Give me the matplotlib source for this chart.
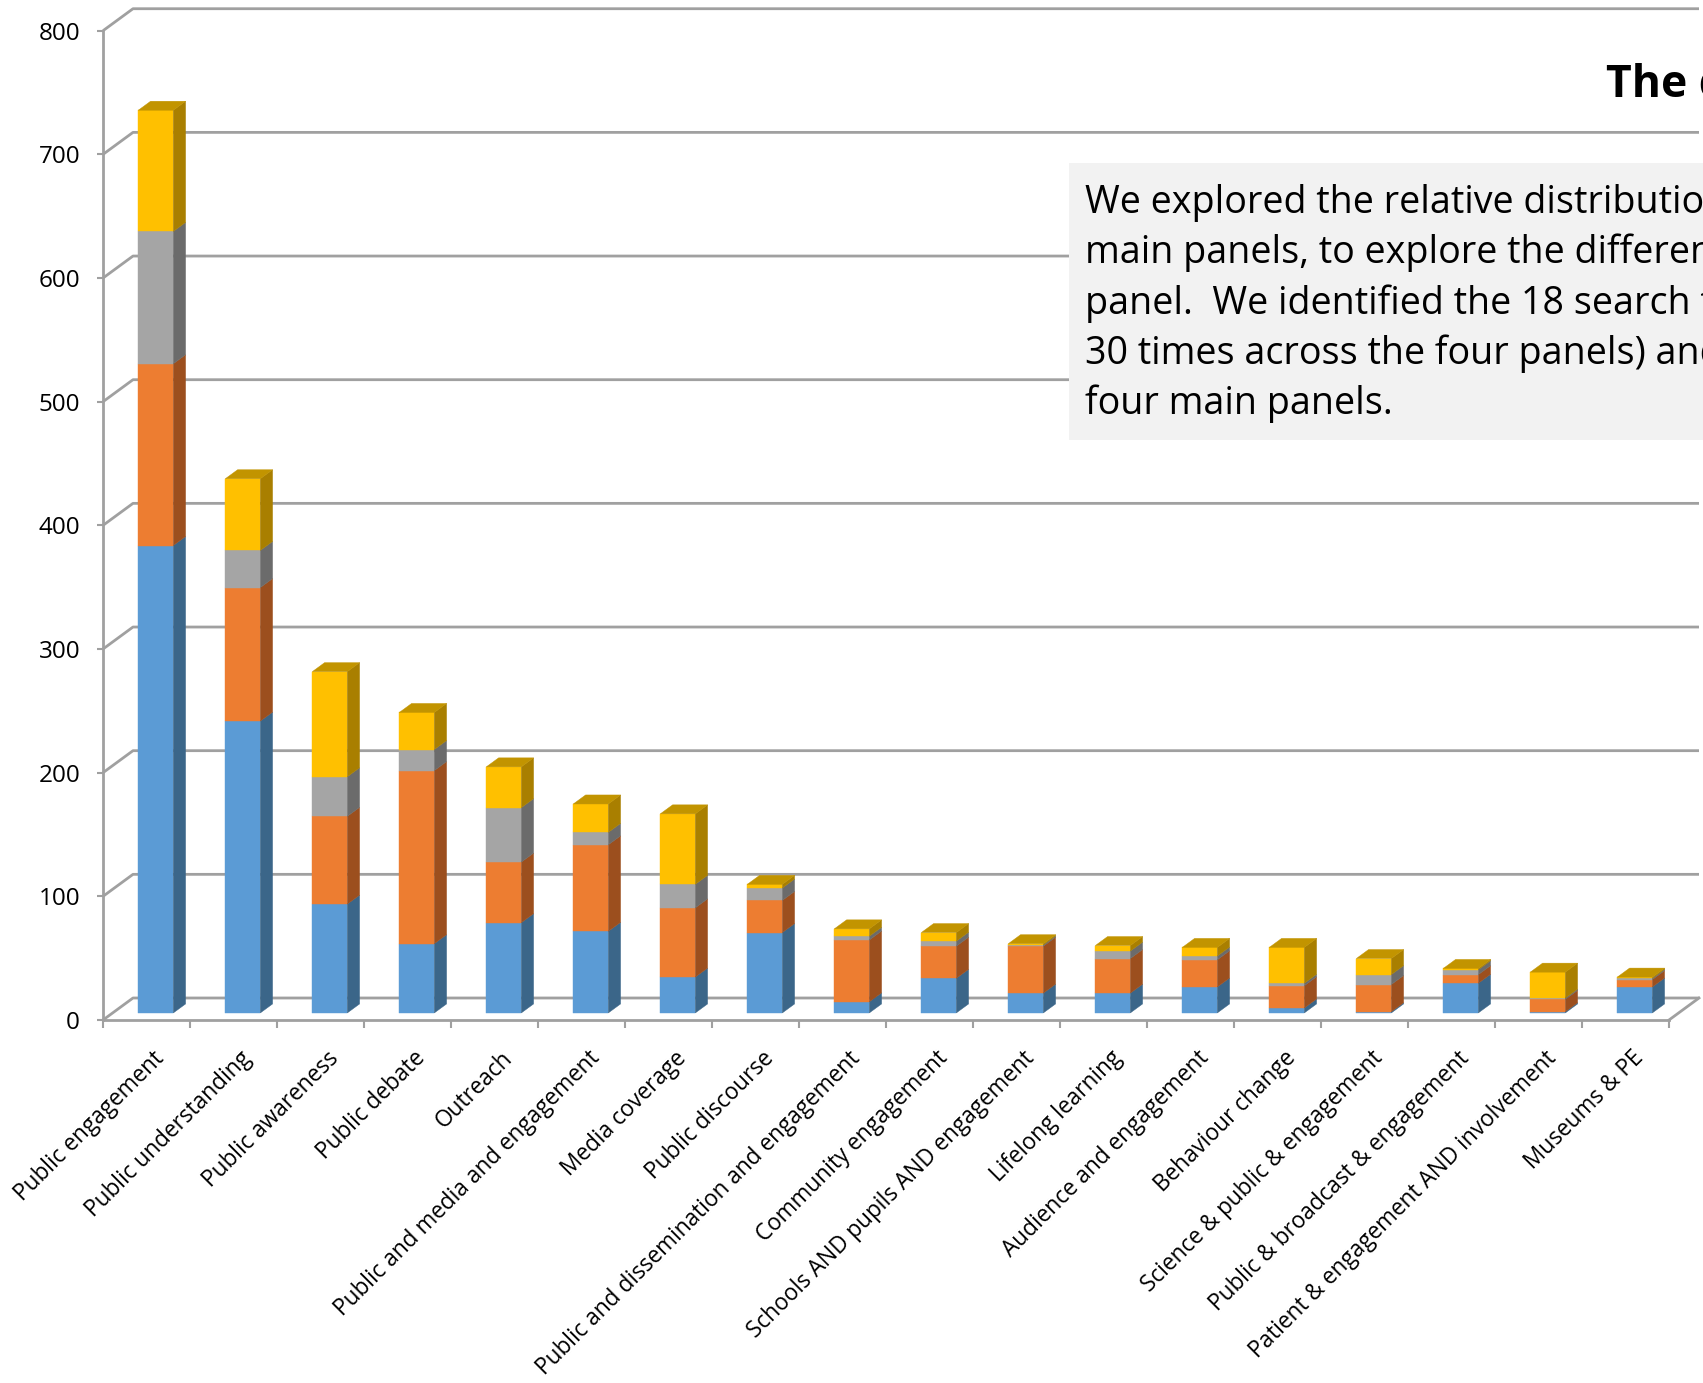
import matplotlib
matplotlib.use("Agg")
import matplotlib.pyplot as plt
from matplotlib.patches import Polygon, Rectangle

categories = ["Public engagement", "Public understanding", "Public awareness", "Public debate",
              "Outreach", "Public and media and engagement", "Media coverage", "Public discourse",
              "Public and dissemination and engagement", "Community engagement",
              "Schools AND pupils AND engagement", "Lifelong learning", "Audience and engagement",
              "Behaviour change", "Science & public & engagement", "Public & broadcast & engagement",
              "Patient & engagement AND involvement", "Museums & PE"]
panel_a = [378, 236, 88, 56, 73, 66, 29, 65, 9, 28, 16, 16, 21, 4, 1, 24, 1, 21]
panel_b = [147, 108, 71, 140, 49, 70, 56, 26, 50, 26, 38, 28, 22, 18, 22, 7, 10, 6]
panel_c = [107, 30, 32, 17, 44, 10, 19, 10, 3, 4, 1, 6, 3, 2, 8, 4, 1, 1]
panel_d = [98, 58, 85, 30, 33, 23, 57, 3, 6, 7, 1, 4.5, 7, 29, 13, 1, 21, 1]
y_ticks = [0, 100, 200, 300, 400, 500, 600, 700, 800]

title_text = "The distribution of search terms"
box_lines = ["We explored the relative distribution of search terms across the",
             "main panels, to explore the differences in emphasis in each",
             "panel.  We identified the 18 search terms (those used more than",
             "30 times across the four panels) and their use across the",
             "four main panels."]

series = [panel_a, panel_b, panel_c, panel_d]
front_cols = ["#5B9BD5", "#ED7D31", "#A5A5A5", "#FFC000"]
side_cols = ["#3B6689", "#9C4F1E", "#6B6B6B", "#A97F00"]
top_cols = ["#4A7FAF", "#C0662A", "#888888", "#C29400"]

FONT = ["Open Sans", "DejaVu Sans"]
plt.rcParams["font.family"] = FONT

W, H = 1703, 1383
fig = plt.figure(figsize=(W / 100, H / 100), dpi=100)
PX_CAT = 87.0
PX_UNIT = 1.2366
ax = fig.add_axes([103 / W, 363 / H, 1600 / W, 1020 / H])
ax.set_xlim(-0.5, -0.5 + 1600 / PX_CAT)
ax.set_ylim(0, 1020 / PX_UNIT)

DX = 30 / PX_CAT
DY = 22 / PX_UNIT
grid_col = "#A0A0A0"
n = len(categories)

for v in y_ticks:
    ax.plot([-0.5, -0.5 + DX, n - 0.5 + DX], [v, v + DY, v + DY],
            color=grid_col, lw=2.0, zorder=1, solid_capstyle="butt", clip_on=False)
ax.plot([n - 0.5, n - 0.5 + DX], [0, DY], color=grid_col, lw=2.0, zorder=1, clip_on=False)

f1, f2 = 0.32, 0.73
bw = 35 / PX_CAT
for i in range(n):
    x0 = i - bw / 2 + 9.3 / PX_CAT
    yb = f1 * DY
    bdx = (f2 - f1) * DX
    bdy = (f2 - f1) * DY
    x1 = x0 + bw
    base = 0.0
    vals = [s[i] for s in series]
    top_idx = max(k for k, v in enumerate(vals) if v > 0)
    for k, v in enumerate(vals):
        if v <= 0:
            continue
        ya, yt = yb + base, yb + base + v
        ax.add_patch(Polygon([(x0, ya), (x1, ya), (x1, yt), (x0, yt)], closed=True,
                             facecolor=front_cols[k], edgecolor=front_cols[k], lw=0.3, zorder=3))
        ax.add_patch(Polygon([(x1, ya), (x1 + bdx, ya + bdy), (x1 + bdx, yt + bdy), (x1, yt)],
                             closed=True, facecolor=side_cols[k], edgecolor=side_cols[k],
                             lw=0.3, zorder=3))
        if k == top_idx:
            ax.add_patch(Polygon([(x0, yt), (x1, yt), (x1 + bdx, yt + bdy), (x0 + bdx, yt + bdy)],
                                 closed=True, facecolor=top_cols[k], edgecolor=top_cols[k],
                                 lw=0.3, zorder=3))
        base += v

for s in ["top", "right"]:
    ax.spines[s].set_visible(False)
ax.spines["left"].set_bounds(0, 800)
ax.spines["bottom"].set_bounds(-0.5, n - 0.5)
for s in ["left", "bottom"]:
    ax.spines[s].set_color(grid_col)
    ax.spines[s].set_linewidth(2.0)
ax.set_yticks(y_ticks)
ax.set_yticklabels([str(t) for t in y_ticks], fontsize=17.5)
ax.tick_params(axis="y", length=4.5, width=1.5, color=grid_col, pad=12)
ax.set_xticks([i - 0.5 for i in range(n + 1)])
ax.set_xticklabels([])
ax.tick_params(axis="x", which="major", length=6, width=1.5, color=grid_col)
ax.set_xticks([i + 0.07 for i in range(n)], minor=True)
ax.set_xticklabels(categories, minor=True, fontsize=16.3)
ax.tick_params(axis="x", which="minor", length=0, pad=19)
plt.setp(ax.get_xticklabels(minor=True), rotation=45, ha="right", va="top",
         rotation_mode="anchor")
ax.patch.set_alpha(0)

# title and text box (partly beyond the right edge, as in the reference)
fig.text(1606 / W, 1 - 97 / H, title_text, fontsize=32, fontweight="bold",
         va="baseline", ha="left")
fig.patches.append(Rectangle((1069 / W, 1 - 440 / H), 1.0, 277 / H, transform=fig.transFigure,
                             facecolor="#F2F2F2", edgecolor="none", zorder=2))

renderer = fig.canvas.get_renderer()
probe = fig.text(0, 0, "We explored the relative distributio", fontsize=20)
wpx = probe.get_window_extent(renderer).width
probe.remove()
box_size = 20 * 618 / wpx
for j, line in enumerate(box_lines):
    fig.text(1085 / W, 1 - (213 + 50.3 * j) / H, line, fontsize=box_size,
             va="baseline", ha="left", zorder=3)

fig.savefig("out.png", dpi=100)
